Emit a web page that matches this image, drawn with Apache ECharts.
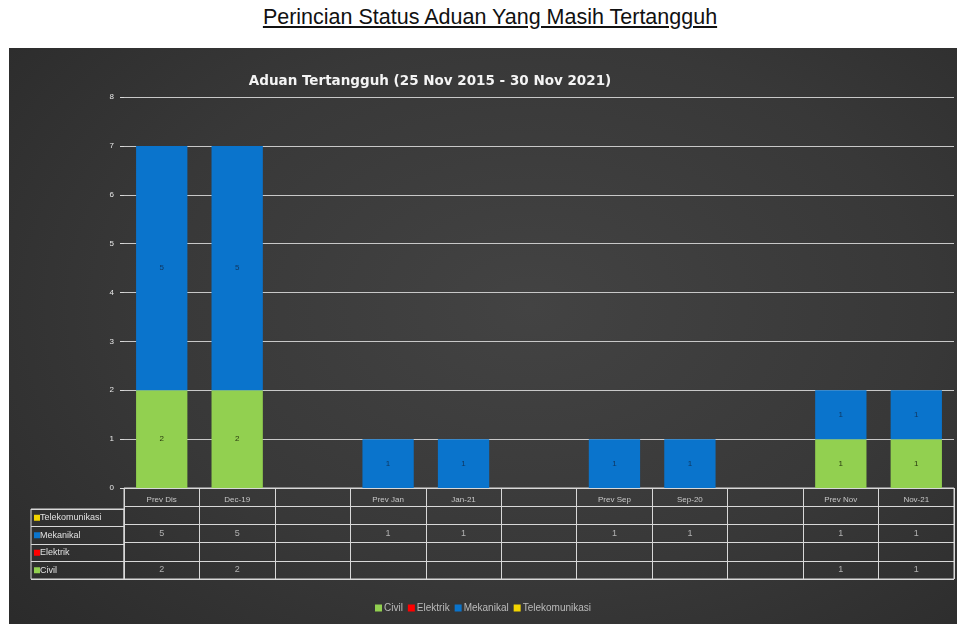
<!DOCTYPE html>
<html>
<head>
<meta charset="utf-8">
<script src="https://cdn.jsdelivr.net/npm/echarts@6/dist/echarts.min.js"></script>
<style>
html,body{margin:0;padding:0;background:#fff;width:957px;height:624px;overflow:hidden;}
#title{position:absolute;left:0;top:5px;width:980px;text-align:center;font-family:"Liberation Sans",Arial,sans-serif;font-size:21.5px;color:#111;text-decoration:underline;}
#chart{position:absolute;left:9px;top:48px;width:948px;height:576px;
background:radial-gradient(ellipse 75% 85% at 55% 45%, #434343 0%, #383838 55%, #2a2a2a 100%);}
</style>
</head>
<body>
<div id="title">Perincian Status Aduan Yang Masih Tertangguh</div>
<div id="chart"></div>
<script>
const chartTitle = 'Aduan Tertangguh (25 Nov 2015 - 30 Nov 2021)';
const categories = ['Prev Dis', 'Dec-19', ' ', 'Prev Jan', 'Jan-21', '  ', 'Prev Sep', 'Sep-20', '   ', 'Prev Nov', 'Nov-21'];
const seriesNames = ['Civil', 'Elektrik', 'Mekanikal', 'Telekomunikasi'];
const civil = [2, 2, null, null, null, null, null, null, null, 1, 1];
const elektrik = [null, null, null, null, null, null, null, null, null, null, null];
const mekanikal = [5, 5, null, 1, 1, null, 1, 1, null, 1, 1];
const telekomunikasi = [null, null, null, null, null, null, null, null, null, null, null];
const yTicks = [0, 1, 2, 3, 4, 5, 6, 7, 8];
const colors = {Civil: '#92d050', Elektrik: '#ff0000', Mekanikal: '#0a74cc', Telekomunikasi: '#f2d400'};
const labelColors = {Civil: '#2a3a10', Elektrik: '#222', Mekanikal: '#10365e', Telekomunikasi: '#222'};
const tableRows = ['Telekomunikasi', 'Mekanikal', 'Elektrik', 'Civil'];
const valuesByName = {Civil: civil, Elektrik: elektrik, Mekanikal: mekanikal, Telekomunikasi: telekomunikasi};

const chart = echarts.init(document.getElementById('chart'));

const tableCells = [];
tableRows.forEach((name, r) => {
  valuesByName[name].forEach((v, i) => {
    if (v !== null && v !== undefined) tableCells.push([i, r, v]);
  });
});

const richRow = {};
tableRows.forEach((n, i) => { richRow['s' + i] = {backgroundColor: colors[n], width: 6, height: 6}; });

const barSeries = seriesNames.map(name => ({
  name: name,
  type: 'bar',
  stack: 'total',
  xAxisIndex: 0, yAxisIndex: 0,
  barCategoryGap: '32%',
  itemStyle: {color: colors[name]},
  label: {show: true, position: 'inside', color: labelColors[name], fontSize: 8, fontFamily: 'Liberation Sans',
    formatter: p => (p.value ? p.value : '')},
  data: valuesByName[name]
}));

chart.setOption({
  animation: false,
  title: {
    text: chartTitle, left: 416, top: 21, textAlign: 'center',
    textStyle: {color: '#f4f4f4', fontSize: 13.5, fontWeight: 'bold', fontFamily: 'DejaVu Sans'}
  },
  legend: {
    data: seriesNames, bottom: 6, left: 'center',
    icon: 'rect', itemWidth: 7, itemHeight: 7, itemGap: 5,
    textStyle: {color: '#bbbbbb', fontSize: 10, fontFamily: 'Liberation Sans', padding: [0, 0, 0, -3]}
  },
  grid: [
    {left: 115, right: 3, top: 49, bottom: 136, containLabel: false},
    {left: 115, right: 3, top: 440, bottom: 45, show: true, borderColor: '#d8d8d8', borderWidth: 1},
    {left: 22, width: 93, top: 461, bottom: 45, show: true, borderColor: '#d8d8d8', borderWidth: 1}
  ],
  xAxis: [
    {type: 'category', gridIndex: 0, data: categories,
      axisLine: {show: true, lineStyle: {color: '#d8d8d8'}}, axisTick: {show: false},
      axisLabel: {color: '#c8c8c8', fontSize: 8, margin: 8, fontFamily: 'Liberation Sans', interval: 0}},
    {type: 'category', gridIndex: 1, data: categories,
      axisLine: {show: false}, axisTick: {show: false}, axisLabel: {show: false},
      splitLine: {show: true, interval: 0, lineStyle: {color: '#d8d8d8', width: 1}}},
    {type: 'value', gridIndex: 2, min: 0, max: 1, show: false}
  ],
  yAxis: [
    {type: 'value', gridIndex: 0, min: 0, max: 8, interval: 1,
      axisLine: {show: false}, axisTick: {show: true, length: 4, lineStyle: {color: '#d8d8d8'}},
      axisLabel: {color: '#e8e8e8', fontSize: 8, margin: 10, fontFamily: 'Liberation Sans',
        formatter: v => (yTicks.includes(v) ? String(v) : '')},
      splitLine: {lineStyle: {color: '#c8c8c8', width: 1}}},
    {type: 'category', gridIndex: 1, inverse: true, data: ['header'].concat(tableRows),
      axisLine: {show: false}, axisTick: {show: false}, axisLabel: {show: false},
      splitLine: {show: true, interval: 0, lineStyle: {color: '#d8d8d8', width: 1}}},
    {type: 'category', gridIndex: 2, inverse: true, data: tableRows,
      axisLine: {show: false}, axisTick: {show: false},
      axisLabel: {inside: true, margin: 3, color: '#e0e0e0', fontSize: 9, fontFamily: 'Liberation Sans', interval: 0,
        formatter: (v, i) => '{s' + i + '|}' + v, rich: richRow},
      splitLine: {show: true, interval: 0, lineStyle: {color: '#d8d8d8', width: 1}}}
  ],
  series: barSeries.concat([{
    type: 'scatter', xAxisIndex: 1, yAxisIndex: 1, symbolSize: 1, silent: true,
    itemStyle: {color: 'rgba(0,0,0,0)'},
    label: {show: true, position: 'inside', color: '#d0d0d0', fontSize: 9, fontFamily: 'Liberation Sans',
      formatter: p => String(p.value[2])},
    data: tableCells.map(c => [c[0], c[1] + 1, c[2]])
  }])
});
</script>
</body>
</html>
